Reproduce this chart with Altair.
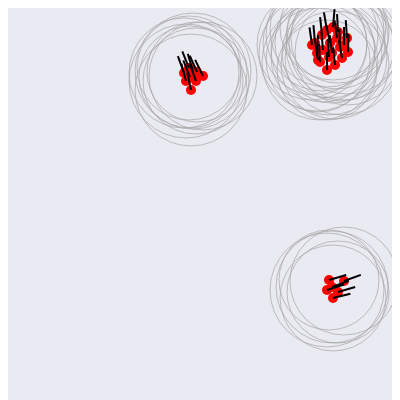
import altair as alt
import pandas as pd

# station positions (page-pixel-like data units), wind direction (deg clockwise from north), uncertainty radius
x_vals = [184, 189, 193, 197, 203, 186, 196, 191, 190,
          312, 315, 320, 327, 335, 342, 348, 347, 337, 330, 323, 317, 332, 340, 327, 333, 322, 338, 344, 318, 329,
          329, 344, 327, 333, 332, 338]
y_vals = [73, 68, 71, 72, 76, 81, 81, 90, 77,
          45, 43, 62, 70, 65, 58, 52, 38, 38, 43, 50, 53, 53, 47, 30, 27, 35, 32, 45, 60, 57,
          280, 281, 290, 298, 287, 292]
direction = [-20, -22, -17, -24, -26, -15, -20, -12, -22,
             -8, -5, -3, 0, -6, -10, 2, -4, -8, -12, -5, 3, -7, -2, -10, 5, -6, -3, 0, -9, -4,
             74, 70, 72, 76, 70, 74]
uncert = [55, 52, 58, 50, 54, 57, 53, 56, 51,
          55, 52, 58, 50, 54, 57, 53, 56, 51, 55, 52, 58, 50, 54, 57, 53, 56, 51, 55, 52, 58,
          50, 54, 57, 53, 56, 51]

df = pd.DataFrame({"x": x_vals, "y": y_vals, "dir": direction, "unc": uncert})
df["ring"] = [(2 * u) ** 2 for u in uncert]

xs = alt.X("x:Q", scale=alt.Scale(domain=[8, 392], nice=False, zero=False), axis=None)
ys = alt.Y("y:Q", scale=alt.Scale(domain=[8, 400], nice=False, zero=False, reverse=True), axis=None)

rings = alt.Chart(df).mark_point(shape="circle", filled=False, stroke="#a6a6a6",
                                 strokeWidth=0.8, opacity=0.9, clip=True).encode(
    x=xs, y=ys, size=alt.Size("ring:Q", scale=None, legend=None))

dots = alt.Chart(df).mark_circle(size=100, color="#ff0000", opacity=1, clip=True).encode(x=xs, y=ys)

arrows = alt.Chart(df).mark_point(shape="M0,0L0,-2", filled=False, stroke="black",
                                  strokeWidth=2, size=320, opacity=1, clip=True).encode(
    x=xs, y=ys, angle=alt.Angle("dir:Q", scale=None))

chart = (rings + dots + arrows).properties(
    width=384, height=392, padding=0, background="#eaeaf2",
    autosize=alt.AutoSizeParams(type="none")
).configure_view(stroke=None, fill="#eaeaf2")

chart.save("out.html", embed_options={"renderer": "svg", "actions": False})
